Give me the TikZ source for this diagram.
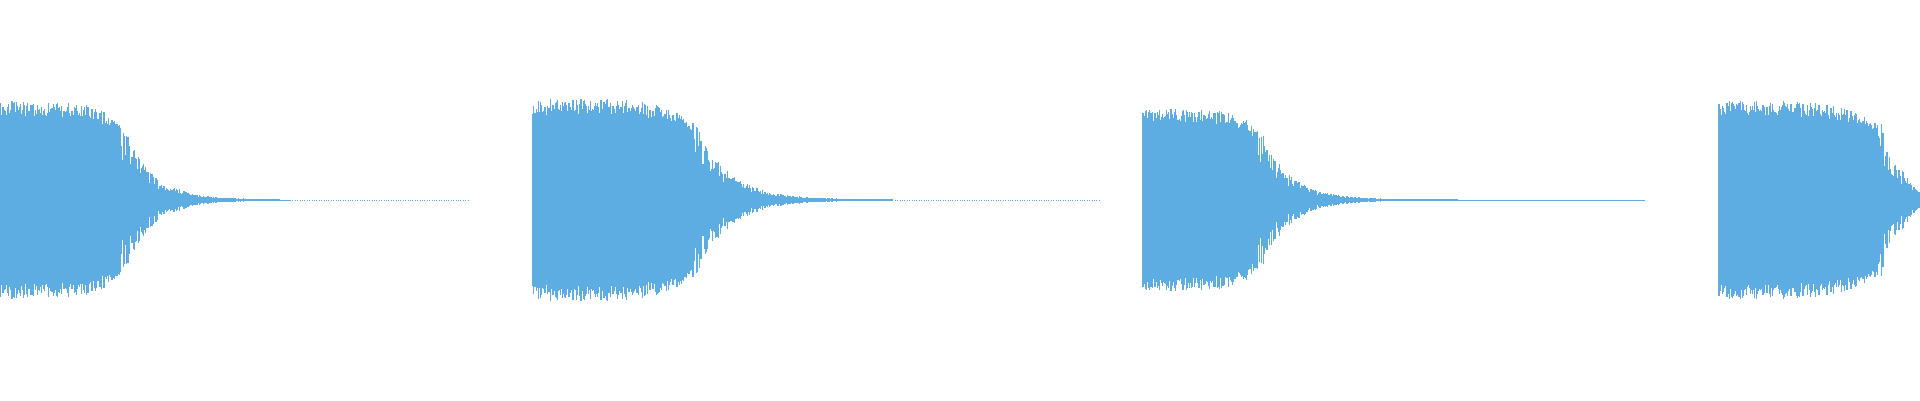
\documentclass[tikz,border=0pt]{standalone}
\definecolor{wave}{HTML}{5DADE2}
\newcommand\wburst[5]{% x0, flat length, amplitude, decay const, tail length
  \pgfmathsetmacro\wend{#2+#5}
  \foreach \i in {0,0.8,...,\wend}{
    \pgfmathsetmacro\wf{min(\i,#2)/#2}
    \pgfmathsetmacro\wd{exp(-max(0,\i-#2)/#4)}
    \pgfmathsetmacro\wa{(\i<#2) ? #3*(1-0.25*\wf^6)*(0.86+0.16*rnd) : (#3*0.72*\wd*(0.6+0.6*rnd)+0.6)}
    \draw[wave,line width=1.1pt] (#1+\i,200-\wa) -- (#1+\i,200+\wa);
  }
}
\begin{document}
\begin{tikzpicture}[x=1pt,y=-1pt]
\pgfmathsetseed{7}
\fill[white] (0,0) rectangle (1920,400);
\clip (0,0) rectangle (1920,400);
\draw[wave,line width=0.4pt] (0,200) -- (290,200);
\draw[wave,line width=0.4pt,dotted] (290,200) -- (470,200);
\draw[wave,line width=0.4pt] (533,200) -- (890,200);
\draw[wave,line width=0.4pt,dotted] (890,200) -- (1100,200);
\draw[wave,line width=0.4pt] (1143,200) -- (1645,200);
\wburst{0}{120}{97}{28}{160}
\wburst{533}{160}{99}{32}{200}
\wburst{1143}{115}{90}{28}{200}
\wburst{1719}{160}{97}{22}{45}
\end{tikzpicture}
\end{document}
